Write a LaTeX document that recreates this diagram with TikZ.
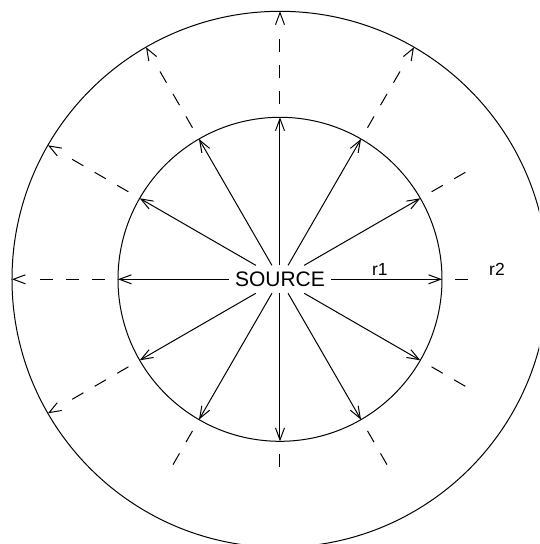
\documentclass[tikz,border=0pt]{standalone}
\usepackage{fontspec}
\setmainfont{Liberation Sans}
\usetikzlibrary{arrows.meta}
\tikzset{
  ring/.style={draw=black, line width=1pt},
  ray/.style={-{Straight Barb[length=12pt,width=9pt]}, draw=black, line width=1pt},
  gapray/.style={draw=black, line width=1pt, dash pattern=on 13pt off 13pt, dash phase=13pt},
  farray/.style={gapray, -{Straight Barb[length=12pt,width=9pt]},
                 dash pattern=on 13pt off 13pt on 13pt off 13pt on 13pt off 53pt, dash phase=105pt},
  srcbox/.style={inner sep=6.5pt, outer sep=0pt, font=\fontsize{21}{25}\selectfont},
  rlbl/.style={anchor=base, inner sep=0pt, font=\fontsize{17.5}{21}\selectfont},
}
\newcommand{\rone}{162}
\newcommand{\rtwo}{268}

\begin{document}
\begin{tikzpicture}[x=1pt,y=1pt]
\useasboundingbox (-280,-264.7) rectangle (259,279.3);
\clip (-280,-264.7) rectangle (259,279.3);

\draw[ring] (0,0) circle (\rone);
\draw[ring] (0,0) circle (\rtwo);

\node[srcbox] (src) at (0,0) {SOURCE};
\node[rlbl] (lblrone) at (99.8,4.3) {r1};
\node[rlbl] (lblrtwo) at (217,4.3) {r2};

% rays inside the first ring
\foreach \a in {0,30,...,330} \draw[ray] (src) -- (\a:\rone);

% dashed rays that stop short of the second ring
\foreach \a/\n in {0/1, 30/2, 240/2, 270/1, 300/2, 330/2}
  \draw[gapray] (\a:\rone) -- (\a:{\rone+26*\n});

% dashed rays that reach the second ring
\foreach \a in {60,90,...,210} \draw[farray] (\a:\rone) -- (\a:\rtwo);
\end{tikzpicture}
\end{document}
